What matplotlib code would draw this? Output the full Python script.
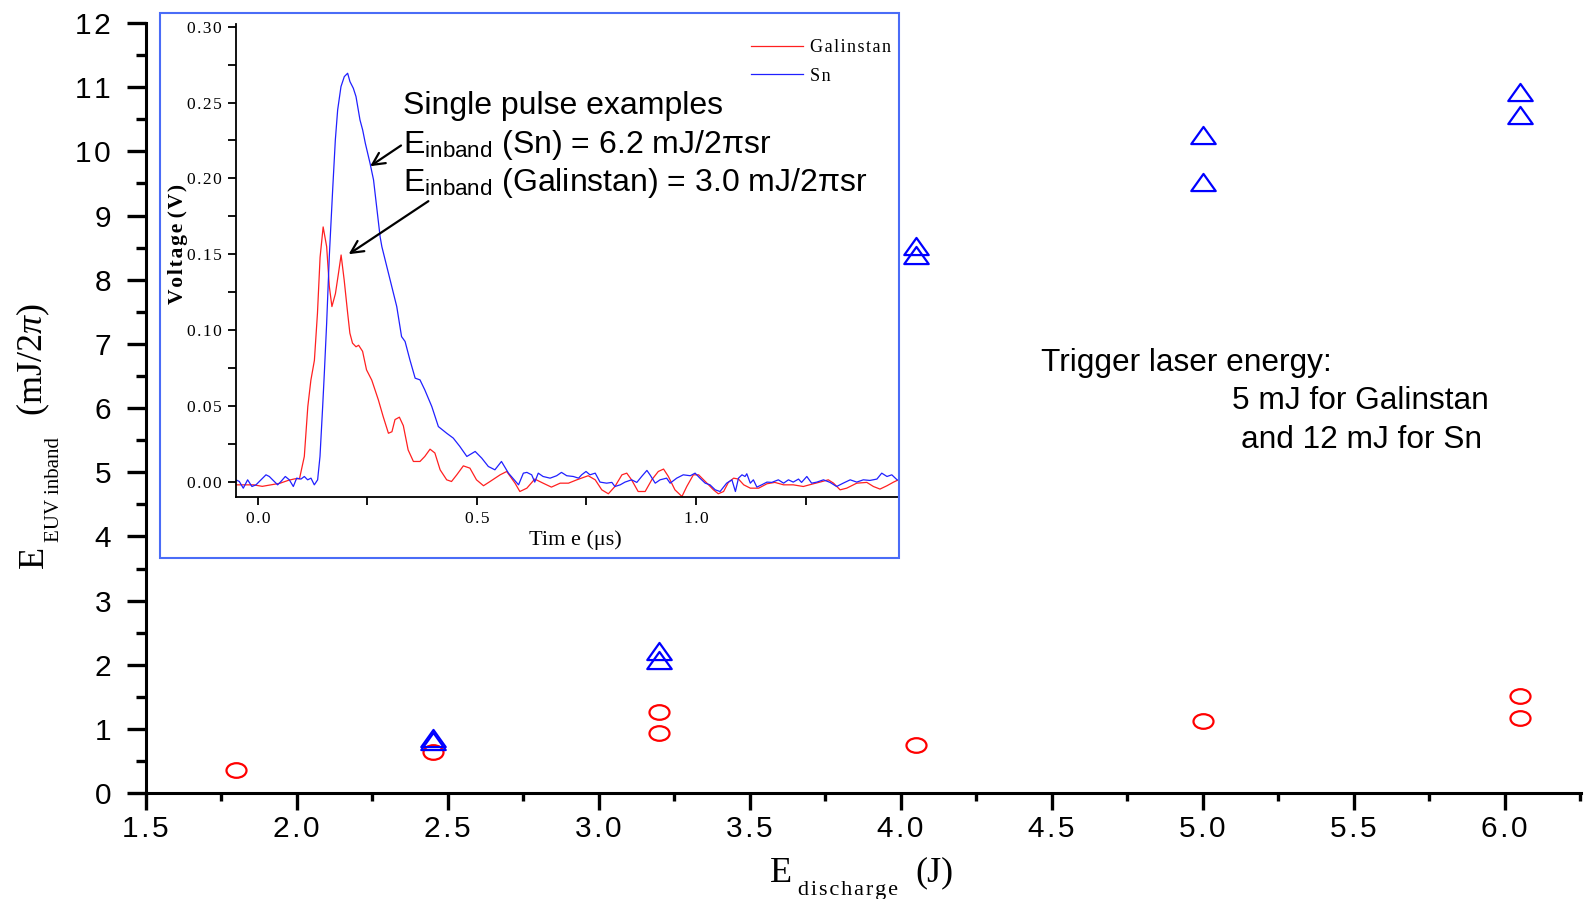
import matplotlib
matplotlib.use('Agg')
import matplotlib.pyplot as plt
import matplotlib.path as mpath
from matplotlib.patches import Rectangle
from matplotlib.ticker import MultipleLocator, FuncFormatter
import numpy as np

# Main plot: EUV inband energy vs discharge energy
gal_x = [1.80, 2.45, 3.20, 3.20, 4.05, 5.00, 6.05, 6.05]
gal_y = [0.37, 0.65, 1.26, 0.94, 0.755, 1.13, 1.52, 1.17]
sn_x = [2.45, 2.45, 3.20, 3.20, 4.05, 4.05, 5.00, 5.00, 6.05, 6.05]
sn_y = [0.86, 0.81, 2.22, 2.07, 8.52, 8.38, 10.26, 9.52, 10.93, 10.57]

# Inset: single pulse traces (time in us, voltage in V)
gal_t = [-0.05, -0.03, -0.01, 0.01, 0.03, 0.05, 0.07, 0.085, 0.095,
         0.106, 0.114, 0.121, 0.129, 0.136, 0.142, 0.149, 0.157, 0.163, 0.169,
         0.177, 0.184, 0.190, 0.197, 0.205, 0.210, 0.216, 0.224, 0.230, 0.239,
         0.248, 0.260, 0.275, 0.286, 0.298, 0.306, 0.313, 0.323, 0.332, 0.343,
         0.355, 0.370, 0.381, 0.393, 0.404, 0.416, 0.431, 0.442, 0.454, 0.469,
         0.484, 0.499, 0.515, 0.530, 0.553, 0.568,
         0.587, 0.598, 0.614, 0.632, 0.651, 0.670, 0.690, 0.709, 0.728, 0.754,
         0.770, 0.785, 0.800, 0.815, 0.831, 0.842, 0.853, 0.868, 0.884, 0.899,
         0.914, 0.926, 0.937, 0.952, 0.968, 0.979, 0.994, 1.006,
         1.025, 1.040, 1.051, 1.063, 1.074, 1.086, 1.097, 1.109, 1.124, 1.143,
         1.162, 1.180, 1.200, 1.222, 1.245, 1.268, 1.283, 1.302, 1.314, 1.329,
         1.344, 1.367, 1.390, 1.405, 1.420, 1.436, 1.451, 1.462]
gal_v = [-0.002, -0.002, -0.002, -0.003, -0.002, -0.001, 0.001, 0.002, 0.002,
         0.0167, 0.0496, 0.067, 0.080, 0.111, 0.148, 0.168, 0.155, 0.129, 0.1155,
         0.124, 0.1375, 0.1495, 0.133, 0.111, 0.098, 0.0914, 0.089, 0.090, 0.086,
         0.0738, 0.067, 0.054, 0.043, 0.032, 0.033, 0.041, 0.0426, 0.037, 0.021,
         0.0134, 0.0134, 0.0167, 0.0215, 0.019, 0.0079, 0.0013, 0.0002, 0.0046, 0.0105,
         0.009, 0.0013, -0.0026, 0.0002, 0.0046, 0.0068,
         -0.0009, -0.0064, -0.0042, 0.0018, -0.0009, -0.0035, -0.0009, -0.0009, 0.0013, 0.004,
         0.0013, -0.0053, -0.0079, -0.0031, 0.0046, 0.0057, 0.0013, -0.0064, -0.0064, 0.0013,
         0.0068, 0.0084, 0.0035, -0.0053, -0.0097, -0.0031, 0.0046, 0.0046,
         -0.0009, -0.0053, -0.0079, -0.0064, -0.0004, 0.0024, 0.0018, -0.002, -0.0042, -0.0042,
         -0.0013, -0.0004, -0.002, -0.002, -0.0031, -0.0013, -0.0002, 0.0013, -0.0009, -0.0053,
         -0.0042, -0.0009, -0.0004, -0.0031, -0.0048, -0.0026, -0.0002, 0.0013]

sn_t = [-0.050, -0.0424, -0.0333, -0.0234, -0.0135, -0.0043, 0.0071, 0.0185, 0.0261, 0.0337,
        0.0451, 0.0527, 0.0626, 0.0718, 0.0809, 0.0885, 0.0984, 0.106, 0.1136, 0.1212,
        0.1288, 0.1364,
        0.1418, 0.1479, 0.1517, 0.157, 0.163, 0.1707, 0.1768, 0.1821, 0.1897, 0.1973,
        0.2049, 0.2102, 0.2179, 0.224, 0.2278, 0.2331, 0.2392, 0.2453,
        0.256, 0.264, 0.279, 0.283, 0.302, 0.317, 0.328, 0.336, 0.347, 0.359,
        0.370, 0.381, 0.397, 0.412, 0.431, 0.446, 0.461, 0.477, 0.496, 0.511,
        0.526, 0.541, 0.556, 0.572,
        0.585, 0.595, 0.606, 0.614, 0.625, 0.632, 0.640, 0.651, 0.667, 0.682,
        0.693, 0.705, 0.720, 0.732, 0.739, 0.749, 0.758, 0.770, 0.781, 0.796,
        0.808, 0.815, 0.827, 0.838, 0.853, 0.865, 0.876, 0.888, 0.895, 0.907,
        0.918, 0.933, 0.941, 0.956, 0.971, 0.987, 0.998,
        1.009, 1.021, 1.032, 1.044, 1.055, 1.070, 1.082, 1.090, 1.097, 1.105,
        1.112, 1.116, 1.124, 1.131, 1.139, 1.150, 1.162, 1.173, 1.188, 1.200,
        1.211, 1.222, 1.234, 1.241, 1.253, 1.264, 1.276, 1.291, 1.306, 1.321,
        1.336, 1.352, 1.367, 1.382, 1.397, 1.413, 1.424, 1.436, 1.447, 1.459]
sn_v = [0.0013, 0.0002, -0.0042, 0.0013, -0.0031, -0.002, 0.0013, 0.0046, 0.0035, 0.0013,
        -0.002, 0.0002, 0.0035, 0.0013, -0.0031, 0.0024, 0.0018, 0.0035, 0.0013, 0.0024,
        -0.002, 0.0013,
        0.0167, 0.0496, 0.0716, 0.1045, 0.1484, 0.1924, 0.2253, 0.2451, 0.2605, 0.2671,
        0.2693, 0.2638, 0.2594, 0.2539, 0.2473, 0.2385, 0.2319, 0.2231,
        0.210, 0.199, 0.1616, 0.155, 0.133, 0.1155, 0.0957, 0.0925, 0.0804, 0.0683,
        0.0672, 0.0606, 0.0496, 0.0364, 0.032, 0.0288, 0.0233, 0.0167, 0.020, 0.0156,
        0.0101, 0.0079, 0.0134, 0.0057,
        0.0013, -0.002, 0.0057, 0.0062, 0.0046, -0.0002, 0.0057, 0.0035, 0.0024, 0.004,
        0.0062, 0.004, 0.0035, 0.0024, 0.0046, 0.0068, 0.0046, 0.0057, -0.0002, -0.0009,
        -0.0004, -0.0031, -0.002, -0.0002, 0.0013, -0.0004, 0.0035, 0.0075, 0.0046, -0.0009,
        0.0013, 0.0024, -0.0009, 0.0024, 0.0046, 0.004, 0.0057,
        0.0024, -0.0009, -0.002, -0.0053, -0.0064, -0.0009, 0.0013, -0.0064, 0.0024, 0.0046,
        0.0035, 0.0053, -0.0009, 0.0013, -0.0035, -0.002, -0.0002, -0.0004, 0.0013, -0.0009,
        0.0013, -0.0002, 0.0018, -0.0004, 0.0035, -0.0009, -0.0002, 0.0013, -0.0004, -0.0031,
        -0.0009, 0.0013, -0.0002, 0.0013, 0.0009, 0.0018, 0.0057, 0.0035, 0.0046, 0.0013]

plt.rcParams['font.family'] = 'Liberation Sans'
plt.rcParams['mathtext.fontset'] = 'custom'
plt.rcParams['mathtext.rm'] = 'Liberation Serif'
plt.rcParams['mathtext.it'] = 'Liberation Serif:italic'
plt.rcParams['mathtext.sf'] = 'Liberation Sans'

SERIF = 'Liberation Serif'
HS = '\u200a'  # hair space, the original tick labels are letter-spaced


def spaced(fmt):
    return FuncFormatter(lambda v, p: HS.join(fmt % v))


# squashed open markers like the original
tri = mpath.Path([(-1, -0.7), (1, -0.7), (0, 0.7), (-1, -0.7)],
                 [mpath.Path.MOVETO, mpath.Path.LINETO, mpath.Path.LINETO, mpath.Path.CLOSEPOLY])
circ = mpath.Path.unit_circle()
ell = mpath.Path(circ.vertices * np.array([1.0, 0.73]), circ.codes)

fig = plt.figure(figsize=(15.89, 8.99), dpi=100)
ax = fig.add_axes([0.0917, 0.1176, 0.9033, 0.8569])

ax.plot(gal_x, gal_y, linestyle='none', marker=ell, markersize=14.4,
        markerfacecolor='none', markeredgecolor='#ff0000', markeredgewidth=1.6)
ax.plot(sn_x, sn_y, linestyle='none', marker=tri, markersize=17.6,
        markerfacecolor='none', markeredgecolor='#0000ff', markeredgewidth=1.6)

ax.set_xlim(1.5, 6.253)
ax.set_ylim(0, 12)
ax.xaxis.set_major_locator(MultipleLocator(0.5))
ax.xaxis.set_minor_locator(MultipleLocator(0.25))
ax.yaxis.set_major_locator(MultipleLocator(1))
ax.yaxis.set_minor_locator(MultipleLocator(0.5))
ax.xaxis.set_major_formatter(spaced('%.1f'))
ax.yaxis.set_major_formatter(spaced('%d'))
ax.spines['top'].set_visible(False)
ax.spines['right'].set_visible(False)
for s in ['left', 'bottom']:
    ax.spines[s].set_linewidth(2.2)
ax.tick_params(axis='x', which='major', length=12, width=2.4, labelsize=21.5, pad=4)
ax.tick_params(axis='x', which='minor', length=6, width=2.4)
ax.tick_params(axis='y', which='major', length=14, width=2.4, labelsize=21.5, pad=11)
ax.tick_params(axis='y', which='minor', length=7, width=2.4)

# axis titles built from pieces, the subscripts sit low like the original
fig.text(0.0268, 0.3687, 'E', family=SERIF, fontsize=26, rotation=90,
         rotation_mode='anchor', ha='left', va='baseline')
fig.text(0.037, 0.3969, 'EUV inband', family=SERIF, fontsize=15, rotation=90,
         rotation_mode='anchor', ha='left', va='baseline')
fig.text(0.0268, 0.5378, '(mJ/2$\\pi$)', family=SERIF, fontsize=26, rotation=90,
         rotation_mode='anchor', ha='left', va='baseline')

fig.text(0.4846, 0.0192, 'E', family=SERIF, fontsize=26, va='baseline')
fig.text(0.502, 0.0045, HS.join('discharge'), family=SERIF, fontsize=16, va='baseline')
fig.text(0.5758, 0.0192, '(J)', family=SERIF, fontsize=26, va='baseline')

fig.text(0.655, 0.5874, 'Trigger laser energy:', fontsize=22.8, va='baseline')
fig.text(0.7755, 0.5446, '5 mJ for Galinstan', fontsize=22.8, va='baseline')
fig.text(0.7812, 0.5018, 'and 12 mJ for Sn', fontsize=22.8, va='baseline')

# inset with the single pulse traces
fig.patches.append(Rectangle((0.1008, 0.3789), 0.465, 0.6065, transform=fig.transFigure,
                             fill=False, edgecolor='#4a6cf7', linewidth=1.5, figure=fig))
axi = fig.add_axes([0.1485, 0.4472, 0.4166, 0.5265])
axi.plot(gal_t, gal_v, color='#ff2020', linewidth=0.9, label=HS.join('Galinstan'))
axi.plot(sn_t, sn_v, color='#2020ff', linewidth=0.9, label=HS.join('Sn'))
axi.set_xlim(-0.05, 1.461)
axi.set_ylim(-0.01, 0.302)
axi.xaxis.set_major_locator(MultipleLocator(0.5))
axi.xaxis.set_minor_locator(MultipleLocator(0.25))
axi.yaxis.set_major_locator(MultipleLocator(0.05))
axi.yaxis.set_minor_locator(MultipleLocator(0.025))
axi.xaxis.set_major_formatter(spaced('%.1f'))
axi.yaxis.set_major_formatter(spaced('%.2f'))
axi.spines['top'].set_visible(False)
axi.spines['right'].set_visible(False)
for s in ['left', 'bottom']:
    axi.spines[s].set_linewidth(1.3)
axi.tick_params(which='major', length=6, width=1.3, labelsize=12.5, pad=4)
axi.tick_params(which='minor', length=6, width=1.3)
for lab in axi.get_xticklabels() + axi.get_yticklabels():
    lab.set_family(SERIF)
axi.set_ylabel(HS.join('Voltage') + ' ' + HS.join('(V)'), family=SERIF,
               fontweight='bold', fontsize=15.5)
axi.yaxis.set_label_coords(-0.073, 0.534)
axi.set_xlabel('Tim e (\u03bcs)', family=SERIF, fontsize=16)
axi.xaxis.set_label_coords(0.513, -0.07)
axi.legend(loc='upper right', bbox_to_anchor=(1.0, 0.983), frameon=False,
           handlelength=2.9, handletextpad=0.35, labelspacing=0.65, borderaxespad=0.0,
           prop={'family': SERIF, 'size': 13})

axi.text(0.3317, 0.2425, 'Single pulse examples', fontsize=23, va='baseline')
axi.text(0.3317, 0.2165, '$\\mathsf{E}_{\\mathsf{inband}}$ (Sn) = 6.2 mJ/2\u03c0sr',
         fontsize=23, va='baseline')
axi.text(0.3317, 0.1918, '$\\mathsf{E}_{\\mathsf{inband}}$ (Galinstan) = 3.0 mJ/2\u03c0sr',
         fontsize=23, va='baseline')
axi.annotate('', xy=(0.251, 0.207), xytext=(0.332, 0.2227),
             arrowprops=dict(arrowstyle='->', lw=1.6, color='black', mutation_scale=22))
axi.annotate('', xy=(0.202, 0.149), xytext=(0.3945, 0.186),
             arrowprops=dict(arrowstyle='->', lw=1.6, color='black', mutation_scale=22))

plt.savefig('out.png', dpi=100)
